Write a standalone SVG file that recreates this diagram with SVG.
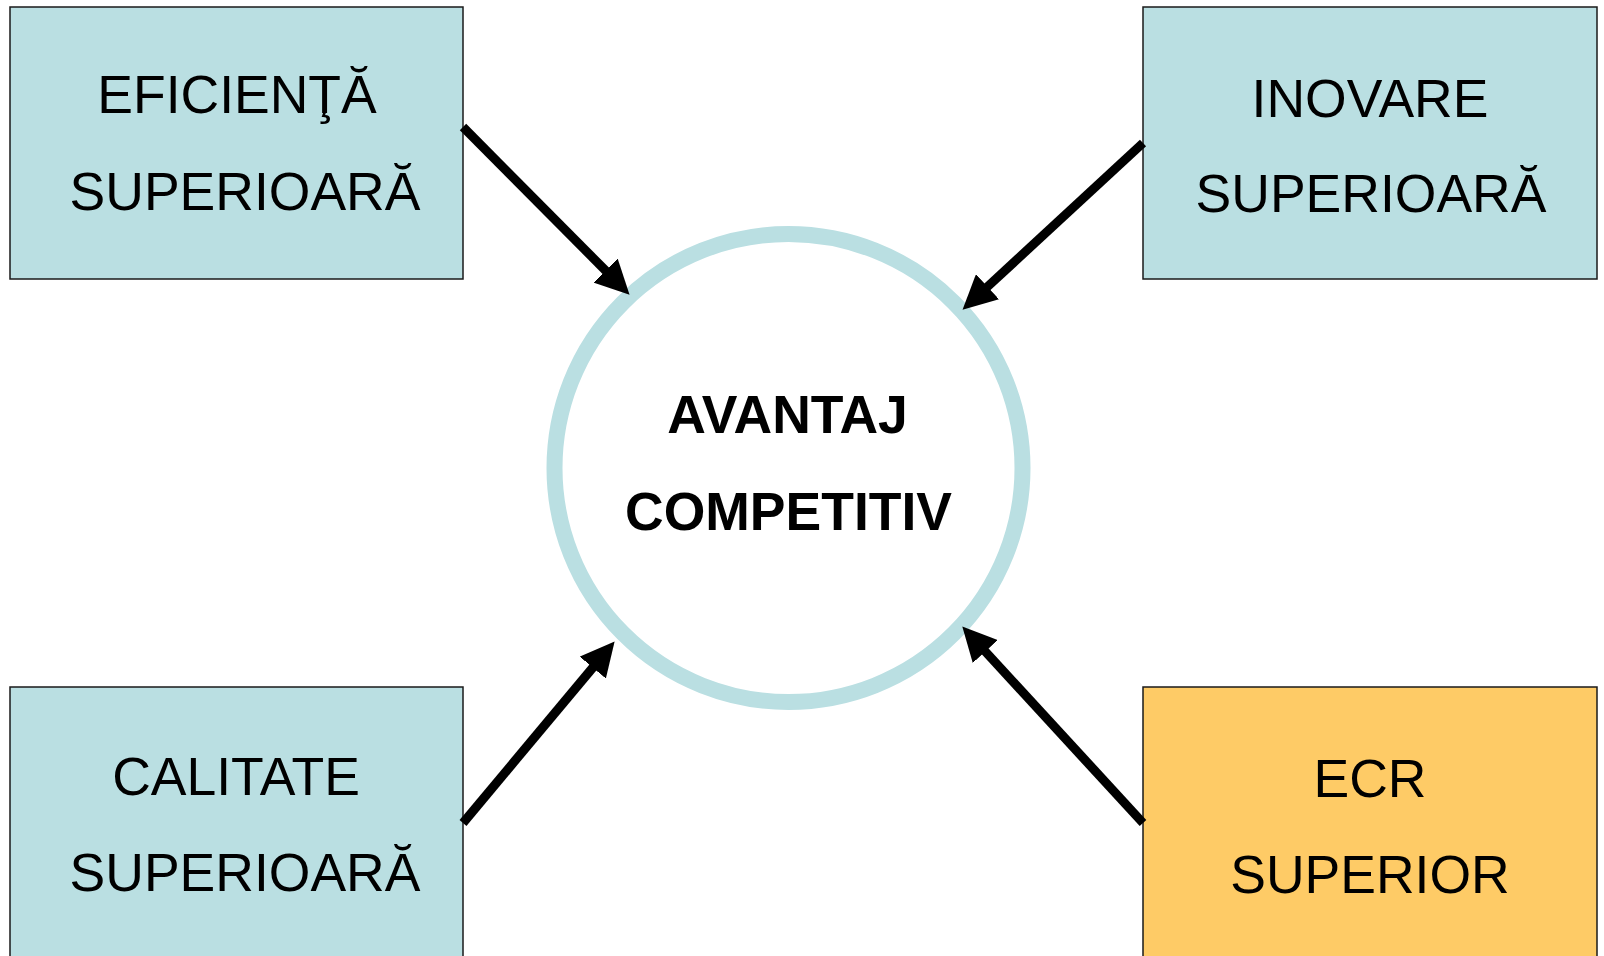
<svg xmlns="http://www.w3.org/2000/svg" width="1604" height="956" viewBox="0 0 1604 956">
<style>
.box{stroke:#1a1a1a;stroke-width:1.5}
.blue{fill:#BADFE2}
.orange{fill:#FECB66}
.lbl{font-family:"Liberation Sans",Arial,sans-serif;font-size:53.5px;fill:#000;text-anchor:middle}
.bold{font-weight:bold}
.conn{stroke:#000;stroke-width:9;fill:none;marker-end:url(#ah)}
</style>
<defs>
<marker id="ah" viewBox="0 0 10 10" markerUnits="userSpaceOnUse" markerWidth="34" markerHeight="34" refX="1" refY="5" orient="auto">
<path d="M0,0 L10,5 L0,10 z" fill="#000"/>
</marker>
</defs>
<rect width="1604" height="956" fill="#fff"/>
<g id="node-eficienta">
<rect class="box blue" x="10" y="7" width="453" height="272"/>
<text class="lbl" x="237" y="113">EFICIENŢĂ</text>
<text class="lbl" x="245" y="210">SUPERIOARĂ</text>
</g>
<g id="node-inovare">
<rect class="box blue" x="1143" y="7" width="454" height="272"/>
<text class="lbl" x="1370" y="117">INOVARE</text>
<text class="lbl" x="1371" y="212">SUPERIOARĂ</text>
</g>
<g id="node-calitate">
<rect class="box blue" x="10" y="687" width="453" height="290"/>
<text class="lbl" x="236" y="795">CALITATE</text>
<text class="lbl" x="245" y="891">SUPERIOARĂ</text>
</g>
<g id="node-ecr">
<rect class="box orange" x="1143" y="687" width="454" height="290"/>
<text class="lbl" x="1370" y="797">ECR</text>
<text class="lbl" x="1370" y="893">SUPERIOR</text>
</g>
<g id="node-avantaj">
<circle cx="788.5" cy="468" r="234" fill="#fff" stroke="#BADFE2" stroke-width="16"/>
<text class="lbl bold" x="787.5" y="433">AVANTAJ</text>
<text class="lbl bold" x="788.5" y="530">COMPETITIV</text>
</g>
<g id="connectors">
<line class="conn" x1="463" y1="127" x2="608" y2="273"/>
<line class="conn" x1="1143" y1="143" x2="985" y2="289"/>
<line class="conn" x1="463" y1="823" x2="595" y2="665"/>
<line class="conn" x1="1143" y1="823" x2="983" y2="649"/>
</g>
</svg>
